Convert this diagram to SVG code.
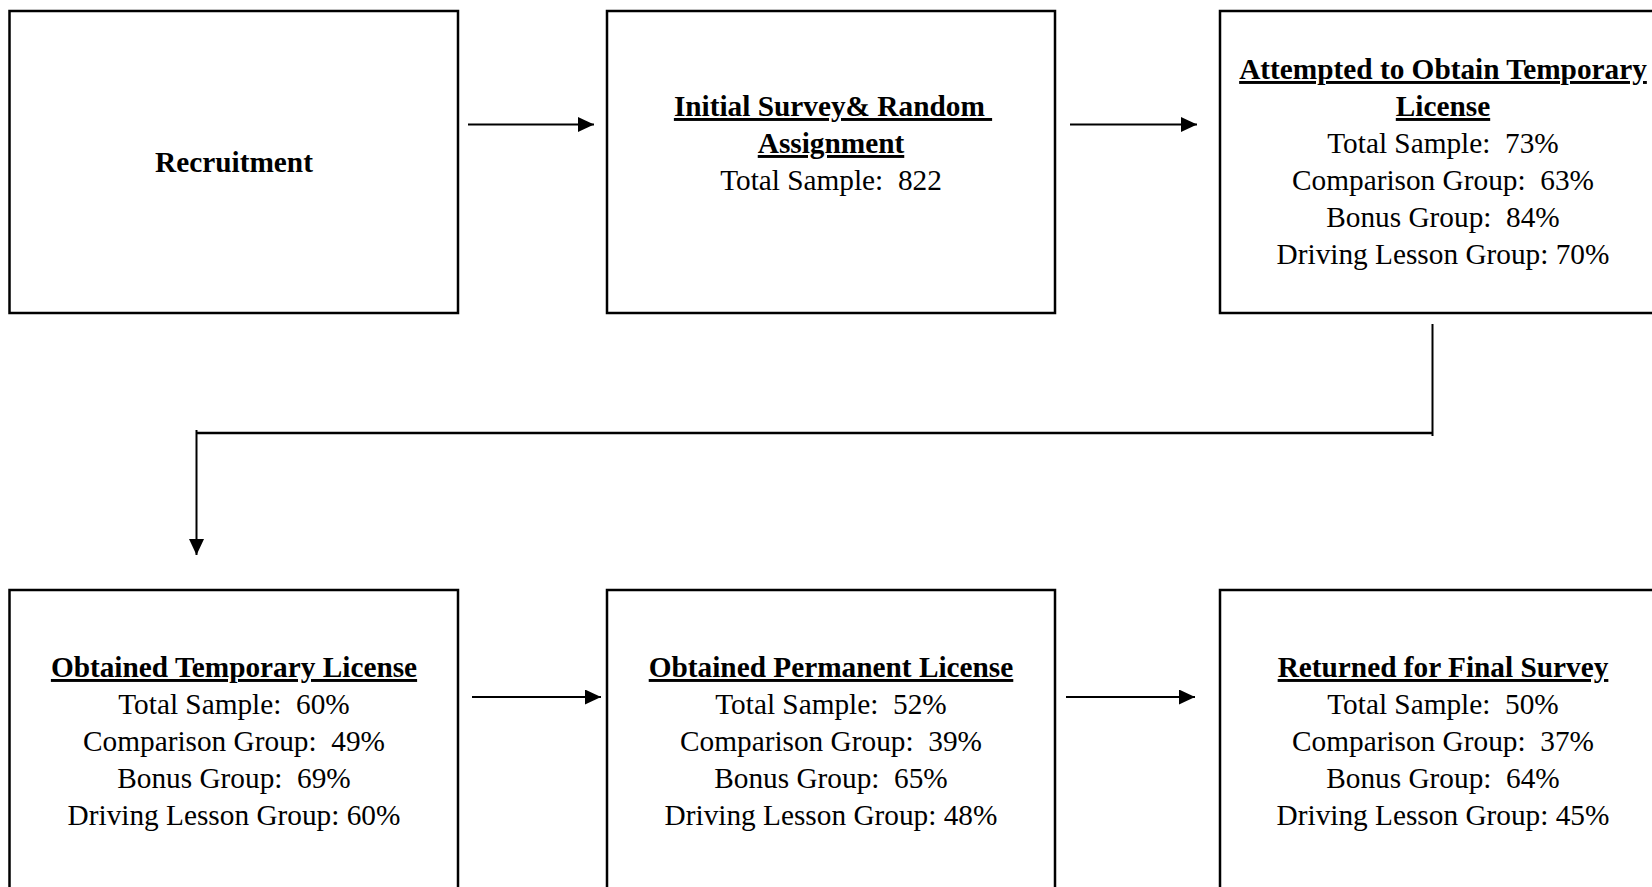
<svg xmlns="http://www.w3.org/2000/svg" width="1652" height="887" viewBox="0 0 1652 887">
<style>
.box{fill:#fff;stroke:#000;stroke-width:2.5}
.t{font-family:"Liberation Serif","Times New Roman",serif;font-size:29.3px;fill:#000;text-anchor:middle}
.b{font-weight:bold;text-decoration:underline;text-decoration-thickness:2.5px;text-underline-offset:4px}
.c{fill:none;stroke:#000;stroke-width:2}
</style>
<defs>
<marker id="ah" markerUnits="userSpaceOnUse" markerWidth="17" markerHeight="16" refX="16" refY="7.5" orient="auto">
<path d="M0,0 L16,7.5 L0,15 Z" fill="#000"/>
</marker>
</defs>
<rect width="1652" height="887" fill="#fff"/>
<g id="recruitment">
<rect class="box" x="9.5" y="11" width="448.5" height="302"/>
<text class="t" x="234" y="172" font-weight="bold">Recruitment</text>
</g>
<g id="initial-survey">
<rect class="box" x="607" y="11" width="448" height="302"/>
<text class="t b" x="833" y="116" style="white-space:pre">Initial Survey&amp; Random </text>
<text class="t b" x="831" y="153">Assignment</text>
<text class="t" x="831" y="190" style="white-space:pre">Total Sample:  822</text>
</g>
<g id="attempted">
<rect class="box" x="1220" y="11" width="448" height="302"/>
<text class="t b" x="1443" y="79">Attempted to Obtain Temporary</text>
<text class="t b" x="1443" y="116">License</text>
<text class="t" x="1443" y="153" style="white-space:pre">Total Sample:  73%</text>
<text class="t" x="1443" y="190" style="white-space:pre">Comparison Group:  63%</text>
<text class="t" x="1443" y="227" style="white-space:pre">Bonus Group:  84%</text>
<text class="t" x="1443" y="264">Driving Lesson Group: 70%</text>
</g>
<g id="obtained-temporary">
<rect class="box" x="9.5" y="590" width="448.5" height="310"/>
<text class="t b" x="234" y="677">Obtained Temporary License</text>
<text class="t" x="234" y="714" style="white-space:pre">Total Sample:  60%</text>
<text class="t" x="234" y="751" style="white-space:pre">Comparison Group:  49%</text>
<text class="t" x="234" y="788" style="white-space:pre">Bonus Group:  69%</text>
<text class="t" x="234" y="825">Driving Lesson Group: 60%</text>
</g>
<g id="obtained-permanent">
<rect class="box" x="607" y="590" width="448" height="310"/>
<text class="t b" x="831" y="677">Obtained Permanent License</text>
<text class="t" x="831" y="714" style="white-space:pre">Total Sample:  52%</text>
<text class="t" x="831" y="751" style="white-space:pre">Comparison Group:  39%</text>
<text class="t" x="831" y="788" style="white-space:pre">Bonus Group:  65%</text>
<text class="t" x="831" y="825">Driving Lesson Group: 48%</text>
</g>
<g id="final-survey">
<rect class="box" x="1220" y="590" width="448" height="310"/>
<text class="t b" x="1443" y="677">Returned for Final Survey</text>
<text class="t" x="1443" y="714" style="white-space:pre">Total Sample:  50%</text>
<text class="t" x="1443" y="751" style="white-space:pre">Comparison Group:  37%</text>
<text class="t" x="1443" y="788" style="white-space:pre">Bonus Group:  64%</text>
<text class="t" x="1443" y="825">Driving Lesson Group: 45%</text>
</g>
<g id="connectors">
<line class="c" x1="468" y1="124.5" x2="594" y2="124.5" marker-end="url(#ah)"/>
<line class="c" x1="1070" y1="124.5" x2="1197" y2="124.5" marker-end="url(#ah)"/>
<line class="c" x1="1432.5" y1="324" x2="1432.5" y2="436"/>
<line x1="196" y1="433" x2="1433" y2="433" stroke="#000" stroke-width="2.5"/>
<line class="c" x1="196.5" y1="430" x2="196.5" y2="555" marker-end="url(#ah)"/>
<line class="c" x1="472" y1="697" x2="601" y2="697" marker-end="url(#ah)"/>
<line class="c" x1="1066" y1="697" x2="1195" y2="697" marker-end="url(#ah)"/>
</g>
</svg>
